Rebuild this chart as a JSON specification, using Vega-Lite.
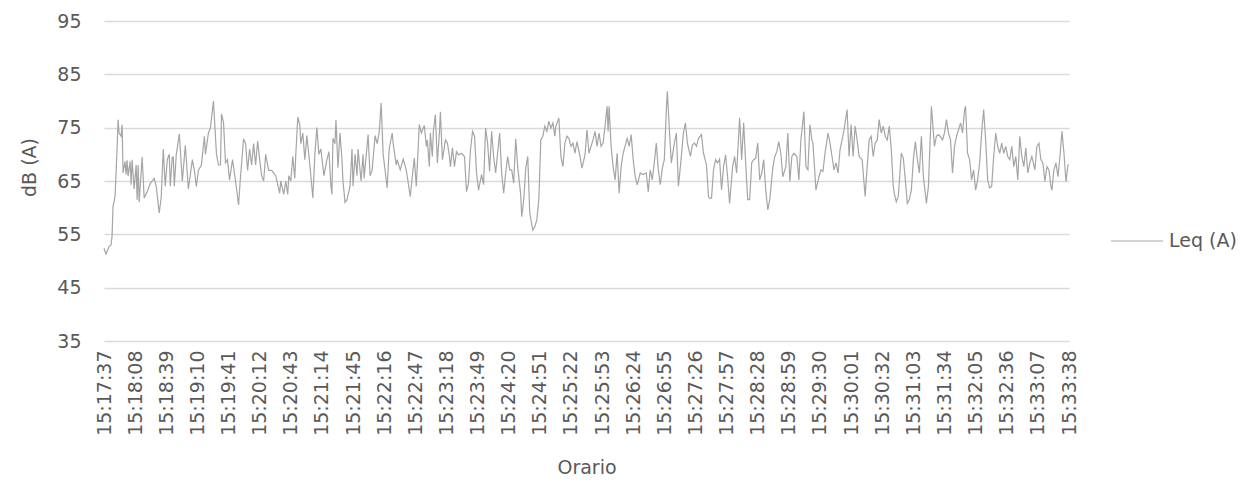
{
  "$schema": "https://vega.github.io/schema/vega-lite/v6.json",
  "width": 965,
  "height": 320,
  "autosize": {"type": "none"},
  "padding": {"left": 104, "top": 21, "right": 179, "bottom": 142},
  "background": "white",
  "config": {
    "view": {"stroke": null},
    "font": "DejaVu Sans",
    "axis": {"labelFont": "DejaVu Sans", "titleFont": "DejaVu Sans", "labelColor": "#595959", "titleColor": "#595959", "labelFontSize": 19, "titleFontSize": 19, "titleFontWeight": "normal", "gridColor": "#d9d9d9", "gridWidth": 1.3, "domain": false, "ticks": false},
    "legend": {"labelFont": "DejaVu Sans", "labelFontSize": 19, "labelColor": "#595959"}
  },
  "data": {"values": [
{"sec":0,"leq":52.4},{"sec":2,"leq":51.3},{"sec":5,"leq":52.7},{"sec":7,"leq":53},{"sec":8,"leq":54.6},{"sec":9,"leq":60.2},{"sec":11,"leq":62.1},{"sec":13,"leq":70.9},{"sec":14,"leq":76.5},{"sec":15,"leq":74},{"sec":17,"leq":73.4},{"sec":18,"leq":75.6},{"sec":19,"leq":66.5},{"sec":21,"leq":68.7},{"sec":22,"leq":66.2},{"sec":23,"leq":68.9},{"sec":24,"leq":65.9},{"sec":26,"leq":68.7},{"sec":27,"leq":64.3},{"sec":28,"leq":69},{"sec":30,"leq":63.5},{"sec":32,"leq":68},{"sec":33,"leq":61.5},{"sec":34,"leq":68},{"sec":35,"leq":61},{"sec":38,"leq":69.5},{"sec":40,"leq":61.8},{"sec":43,"leq":63},{"sec":46,"leq":64.5},{"sec":50,"leq":65.5},{"sec":52,"leq":64},{"sec":55,"leq":59},{"sec":57,"leq":62},{"sec":59,"leq":71},{"sec":61,"leq":64},{"sec":63,"leq":69},{"sec":65,"leq":70},{"sec":66,"leq":64},{"sec":68,"leq":69.5},{"sec":69,"leq":69.5},{"sec":70,"leq":64},{"sec":72,"leq":70},{"sec":75,"leq":73.8},{"sec":78,"leq":65},{"sec":81,"leq":71.7},{"sec":84,"leq":63.5},{"sec":88,"leq":69},{"sec":90,"leq":67},{"sec":92,"leq":64},{"sec":94,"leq":67},{"sec":97,"leq":68},{"sec":100,"leq":73.4},{"sec":101,"leq":70},{"sec":104,"leq":74},{"sec":106,"leq":75},{"sec":109,"leq":80},{"sec":112,"leq":70},{"sec":114,"leq":68},{"sec":116,"leq":68},{"sec":117,"leq":77.6},{"sec":119,"leq":76},{"sec":121,"leq":68.4},{"sec":123,"leq":69},{"sec":125,"leq":65.2},{"sec":128,"leq":69},{"sec":131,"leq":65},{"sec":134,"leq":60.5},{"sec":136,"leq":66},{"sec":139,"leq":72.9},{"sec":141,"leq":72},{"sec":143,"leq":67},{"sec":145,"leq":71},{"sec":147,"leq":68},{"sec":149,"leq":72},{"sec":151,"leq":68},{"sec":153,"leq":72.5},{"sec":155,"leq":69},{"sec":157,"leq":66},{"sec":159,"leq":65},{"sec":161,"leq":70},{"sec":164,"leq":67},{"sec":167,"leq":67},{"sec":171,"leq":66},{"sec":175,"leq":62.7},{"sec":176,"leq":65},{"sec":179,"leq":62.5},{"sec":181,"leq":65},{"sec":183,"leq":62.5},{"sec":184,"leq":66},{"sec":186,"leq":65},{"sec":188,"leq":69.6},{"sec":190,"leq":65.5},{"sec":191,"leq":70},{"sec":193,"leq":77},{"sec":195,"leq":75.5},{"sec":196,"leq":72},{"sec":198,"leq":74},{"sec":200,"leq":69},{"sec":202,"leq":73.5},{"sec":205,"leq":68},{"sec":208,"leq":61.8},{"sec":210,"leq":70},{"sec":212,"leq":75},{"sec":214,"leq":70},{"sec":216,"leq":71},{"sec":219,"leq":66},{"sec":222,"leq":69},{"sec":224,"leq":70.5},{"sec":226,"leq":64},{"sec":227,"leq":62.5},{"sec":228,"leq":73},{"sec":230,"leq":72},{"sec":231,"leq":76.5},{"sec":233,"leq":67.5},{"sec":235,"leq":74},{"sec":237,"leq":69},{"sec":238,"leq":65},{"sec":240,"leq":61},{"sec":242,"leq":61.5},{"sec":245,"leq":64},{"sec":247,"leq":71},{"sec":248,"leq":64},{"sec":250,"leq":70},{"sec":252,"leq":66},{"sec":253,"leq":71},{"sec":256,"leq":65},{"sec":258,"leq":70},{"sec":259,"leq":65.5},{"sec":263,"leq":73.7},{"sec":265,"leq":66},{"sec":267,"leq":67},{"sec":270,"leq":73.5},{"sec":272,"leq":72},{"sec":274,"leq":74},{"sec":276,"leq":79.6},{"sec":278,"leq":70},{"sec":282,"leq":63.7},{"sec":284,"leq":71},{"sec":287,"leq":74},{"sec":288,"leq":72},{"sec":291,"leq":68},{"sec":292,"leq":69},{"sec":295,"leq":67.1},{"sec":298,"leq":69.1},{"sec":301,"leq":67.1},{"sec":305,"leq":62.1},{"sec":307,"leq":65.8},{"sec":309,"leq":69.3},{"sec":311,"leq":64},{"sec":314,"leq":75.6},{"sec":316,"leq":74},{"sec":319,"leq":75.4},{"sec":321,"leq":71.5},{"sec":322,"leq":72.7},{"sec":324,"leq":67.7},{"sec":325,"leq":74},{"sec":327,"leq":69.6},{"sec":328,"leq":74.3},{"sec":330,"leq":77.4},{"sec":332,"leq":68.4},{"sec":334,"leq":74},{"sec":335,"leq":78},{"sec":337,"leq":69},{"sec":340,"leq":72.7},{"sec":342,"leq":72.1},{"sec":344,"leq":69.6},{"sec":345,"leq":67.7},{"sec":347,"leq":71.2},{"sec":349,"leq":67.7},{"sec":351,"leq":70.5},{"sec":353,"leq":69.9},{"sec":356,"leq":70.2},{"sec":359,"leq":69.6},{"sec":361,"leq":63},{"sec":363,"leq":64.6},{"sec":365,"leq":70.9},{"sec":367,"leq":74.3},{"sec":369,"leq":73.4},{"sec":371,"leq":66.5},{"sec":373,"leq":63.3},{"sec":376,"leq":66.2},{"sec":378,"leq":64.3},{"sec":380,"leq":74.9},{"sec":382,"leq":72.1},{"sec":384,"leq":66.8},{"sec":386,"leq":74.3},{"sec":388,"leq":69.6},{"sec":390,"leq":66.5},{"sec":394,"leq":74},{"sec":396,"leq":66.5},{"sec":398,"leq":62.7},{"sec":400,"leq":66.5},{"sec":402,"leq":69.6},{"sec":404,"leq":67.1},{"sec":406,"leq":67.1},{"sec":408,"leq":64.6},{"sec":410,"leq":72.9},{"sec":412,"leq":67.7},{"sec":415,"leq":62.4},{"sec":416,"leq":58.3},{"sec":418,"leq":61.5},{"sec":420,"leq":67.4},{"sec":422,"leq":69.6},{"sec":424,"leq":59},{"sec":427,"leq":55.8},{"sec":429,"leq":56.4},{"sec":431,"leq":57.7},{"sec":433,"leq":61.5},{"sec":435,"leq":72.7},{"sec":437,"leq":73.4},{"sec":439,"leq":75.3},{"sec":441,"leq":74.3},{"sec":443,"leq":76.2},{"sec":445,"leq":74.9},{"sec":447,"leq":75.9},{"sec":449,"leq":73.4},{"sec":450,"leq":75.3},{"sec":453,"leq":76.8},{"sec":455,"leq":69.6},{"sec":457,"leq":67.7},{"sec":459,"leq":72.1},{"sec":461,"leq":73.4},{"sec":463,"leq":73},{"sec":465,"leq":71.5},{"sec":467,"leq":72.1},{"sec":469,"leq":70.2},{"sec":471,"leq":72.4},{"sec":474,"leq":69.6},{"sec":476,"leq":67.4},{"sec":479,"leq":69.9},{"sec":481,"leq":74.6},{"sec":483,"leq":70.2},{"sec":485,"leq":71.5},{"sec":487,"leq":72.7},{"sec":489,"leq":74.3},{"sec":491,"leq":71.5},{"sec":493,"leq":74},{"sec":495,"leq":71.5},{"sec":497,"leq":72.1},{"sec":499,"leq":75.3},{"sec":501,"leq":79},{"sec":502,"leq":74.3},{"sec":503,"leq":79},{"sec":505,"leq":71.5},{"sec":507,"leq":67.7},{"sec":509,"leq":65.2},{"sec":511,"leq":70.2},{"sec":513,"leq":62.7},{"sec":515,"leq":67.7},{"sec":517,"leq":70.2},{"sec":521,"leq":73},{"sec":523,"leq":71.5},{"sec":525,"leq":73.7},{"sec":527,"leq":69},{"sec":529,"leq":65.8},{"sec":531,"leq":64.3},{"sec":534,"leq":66.5},{"sec":537,"leq":66.2},{"sec":540,"leq":66.5},{"sec":542,"leq":63},{"sec":544,"leq":67.1},{"sec":546,"leq":65.2},{"sec":548,"leq":68.4},{"sec":550,"leq":72.1},{"sec":552,"leq":67.1},{"sec":554,"leq":64.3},{"sec":556,"leq":67.4},{"sec":558,"leq":69},{"sec":560,"leq":78.4},{"sec":561,"leq":81.8},{"sec":563,"leq":74.6},{"sec":565,"leq":68.4},{"sec":568,"leq":72.1},{"sec":570,"leq":74},{"sec":572,"leq":64},{"sec":574,"leq":67.7},{"sec":577,"leq":74},{"sec":579,"leq":75.9},{"sec":581,"leq":72.1},{"sec":584,"leq":69.6},{"sec":586,"leq":71.8},{"sec":588,"leq":72.1},{"sec":590,"leq":71.5},{"sec":592,"leq":73},{"sec":595,"leq":73.7},{"sec":597,"leq":70.2},{"sec":600,"leq":68},{"sec":602,"leq":62.1},{"sec":603,"leq":61.8},{"sec":605,"leq":61.8},{"sec":607,"leq":67.1},{"sec":609,"leq":69},{"sec":611,"leq":68.4},{"sec":613,"leq":69.1},{"sec":615,"leq":63.3},{"sec":617,"leq":67.7},{"sec":619,"leq":69.9},{"sec":621,"leq":65.8},{"sec":623,"leq":60.8},{"sec":626,"leq":67.7},{"sec":628,"leq":69.6},{"sec":630,"leq":66.5},{"sec":633,"leq":76.8},{"sec":635,"leq":69},{"sec":637,"leq":75.9},{"sec":639,"leq":68.4},{"sec":641,"leq":61.5},{"sec":643,"leq":61.5},{"sec":645,"leq":68.4},{"sec":647,"leq":69},{"sec":649,"leq":69.3},{"sec":651,"leq":72.1},{"sec":653,"leq":65.2},{"sec":655,"leq":66.5},{"sec":657,"leq":69},{"sec":659,"leq":63.3},{"sec":661,"leq":59.6},{"sec":663,"leq":61.5},{"sec":666,"leq":67.4},{"sec":668,"leq":69.6},{"sec":670,"leq":70.5},{"sec":672,"leq":72.4},{"sec":674,"leq":70.2},{"sec":676,"leq":65.8},{"sec":679,"leq":67.7},{"sec":681,"leq":74},{"sec":683,"leq":64.9},{"sec":685,"leq":69.6},{"sec":687,"leq":70.2},{"sec":690,"leq":69.6},{"sec":692,"leq":65.2},{"sec":694,"leq":72.7},{"sec":697,"leq":78},{"sec":699,"leq":67.7},{"sec":701,"leq":67.1},{"sec":703,"leq":75.6},{"sec":705,"leq":72.7},{"sec":706,"leq":72.1},{"sec":709,"leq":63.3},{"sec":712,"leq":65.8},{"sec":714,"leq":67.1},{"sec":716,"leq":66.8},{"sec":718,"leq":70.2},{"sec":721,"leq":74},{"sec":723,"leq":72.1},{"sec":725,"leq":69.6},{"sec":727,"leq":67.1},{"sec":729,"leq":68.4},{"sec":731,"leq":66.5},{"sec":733,"leq":70.9},{"sec":735,"leq":72.7},{"sec":737,"leq":74.6},{"sec":740,"leq":78.4},{"sec":742,"leq":69.6},{"sec":744,"leq":75.6},{"sec":746,"leq":69.6},{"sec":748,"leq":75.3},{"sec":750,"leq":72.7},{"sec":752,"leq":69.6},{"sec":755,"leq":69},{"sec":758,"leq":62.1},{"sec":760,"leq":67.7},{"sec":762,"leq":72.7},{"sec":764,"leq":73.4},{"sec":766,"leq":69.6},{"sec":768,"leq":72.1},{"sec":770,"leq":72.7},{"sec":772,"leq":76.5},{"sec":774,"leq":74},{"sec":776,"leq":75.3},{"sec":778,"leq":73.4},{"sec":780,"leq":72.7},{"sec":782,"leq":75.3},{"sec":784,"leq":70.9},{"sec":786,"leq":64},{"sec":787,"leq":62.7},{"sec":789,"leq":61.1},{"sec":791,"leq":62.1},{"sec":794,"leq":70.2},{"sec":796,"leq":69.3},{"sec":798,"leq":65.2},{"sec":800,"leq":60.8},{"sec":802,"leq":61.5},{"sec":804,"leq":63.3},{"sec":806,"leq":69},{"sec":808,"leq":72.4},{"sec":810,"leq":69},{"sec":812,"leq":66.5},{"sec":814,"leq":73.4},{"sec":816,"leq":65.8},{"sec":819,"leq":60.8},{"sec":821,"leq":64},{"sec":823,"leq":74},{"sec":824,"leq":79},{"sec":826,"leq":74},{"sec":827,"leq":71.5},{"sec":829,"leq":73.4},{"sec":831,"leq":73.7},{"sec":833,"leq":73.3},{"sec":835,"leq":72.7},{"sec":837,"leq":74},{"sec":839,"leq":76.5},{"sec":841,"leq":74},{"sec":843,"leq":72.7},{"sec":845,"leq":66.5},{"sec":847,"leq":71.5},{"sec":849,"leq":73.4},{"sec":851,"leq":74.6},{"sec":853,"leq":75.9},{"sec":855,"leq":74},{"sec":857,"leq":78.4},{"sec":858,"leq":79},{"sec":860,"leq":70.2},{"sec":862,"leq":69},{"sec":864,"leq":65.2},{"sec":866,"leq":67.1},{"sec":868,"leq":63.3},{"sec":870,"leq":65.2},{"sec":872,"leq":68.4},{"sec":874,"leq":74},{"sec":876,"leq":78.4},{"sec":878,"leq":72.7},{"sec":880,"leq":65.2},{"sec":882,"leq":63.7},{"sec":884,"leq":64},{"sec":886,"leq":69.6},{"sec":888,"leq":74},{"sec":890,"leq":71.5},{"sec":892,"leq":70.2},{"sec":894,"leq":72.1},{"sec":896,"leq":70.2},{"sec":898,"leq":71.5},{"sec":900,"leq":69.6},{"sec":902,"leq":69},{"sec":904,"leq":71.5},{"sec":906,"leq":67.7},{"sec":908,"leq":69.6},{"sec":910,"leq":65.2},{"sec":912,"leq":73.4},{"sec":914,"leq":69.6},{"sec":916,"leq":67.7},{"sec":918,"leq":71.2},{"sec":920,"leq":66.5},{"sec":922,"leq":68.4},{"sec":924,"leq":69.6},{"sec":927,"leq":67.1},{"sec":929,"leq":71.5},{"sec":931,"leq":72.1},{"sec":933,"leq":69},{"sec":935,"leq":68.4},{"sec":937,"leq":64.9},{"sec":939,"leq":67.7},{"sec":941,"leq":67.1},{"sec":943,"leq":64},{"sec":944,"leq":63.3},{"sec":946,"leq":67.1},{"sec":948,"leq":68.4},{"sec":950,"leq":65.8},{"sec":952,"leq":69.6},{"sec":954,"leq":74.3},{"sec":956,"leq":70.2},{"sec":958,"leq":64.9},{"sec":960,"leq":68},{"sec":961,"leq":68}
  ]},
  "mark": {"type": "line", "strokeWidth": 1.2, "interpolate": "linear"},
  "encoding": {
    "x": {
      "field": "sec", "type": "quantitative",
      "scale": {"domain": [0, 961], "nice": false, "zero": false},
      "axis": {
        "title": "Orario",
        "values": [0,31,62,93,124,155,186,217,248,279,310,341,372,403,434,465,496,527,558,589,620,651,682,713,744,775,806,837,868,899,930,961],
        "labelExpr": "timeFormat(datetime(2024,0,1,15,17,37+datum.value),'%H:%M:%S')",
        "labelAngle": -90,
        "labelAlign": "right",
        "labelBaseline": "middle",
        "labelPadding": 9,
        "labelOverlap": false,
        "labelFlush": false,
        "grid": false,
        "titleY": 126,
        "titleBaseline": "middle"
      }
    },
    "y": {
      "field": "leq", "type": "quantitative",
      "scale": {"domain": [35, 95], "nice": false, "zero": false},
      "axis": {
        "title": "dB (A)",
        "values": [35,45,55,65,75,85,95],
        "labelPadding": 23,
        "grid": true,
        "titleAngle": -90,
        "titleX": -75,
        "titleY": 146,
        "titleAlign": "center",
        "titleBaseline": "middle"
      }
    },
    "color": {
      "datum": "Leq (A)",
      "type": "nominal",
      "scale": {"range": ["#a5a5a5"]},
      "legend": {
        "title": null,
        "orient": "none",
        "legendX": 1006,
        "legendY": 193,
        "padding": 0,
        "symbolType": "stroke",
        "symbolSize": 2700,
        "symbolStrokeWidth": 1.2,
        "labelOffset": 5
      }
    }
  }
}
